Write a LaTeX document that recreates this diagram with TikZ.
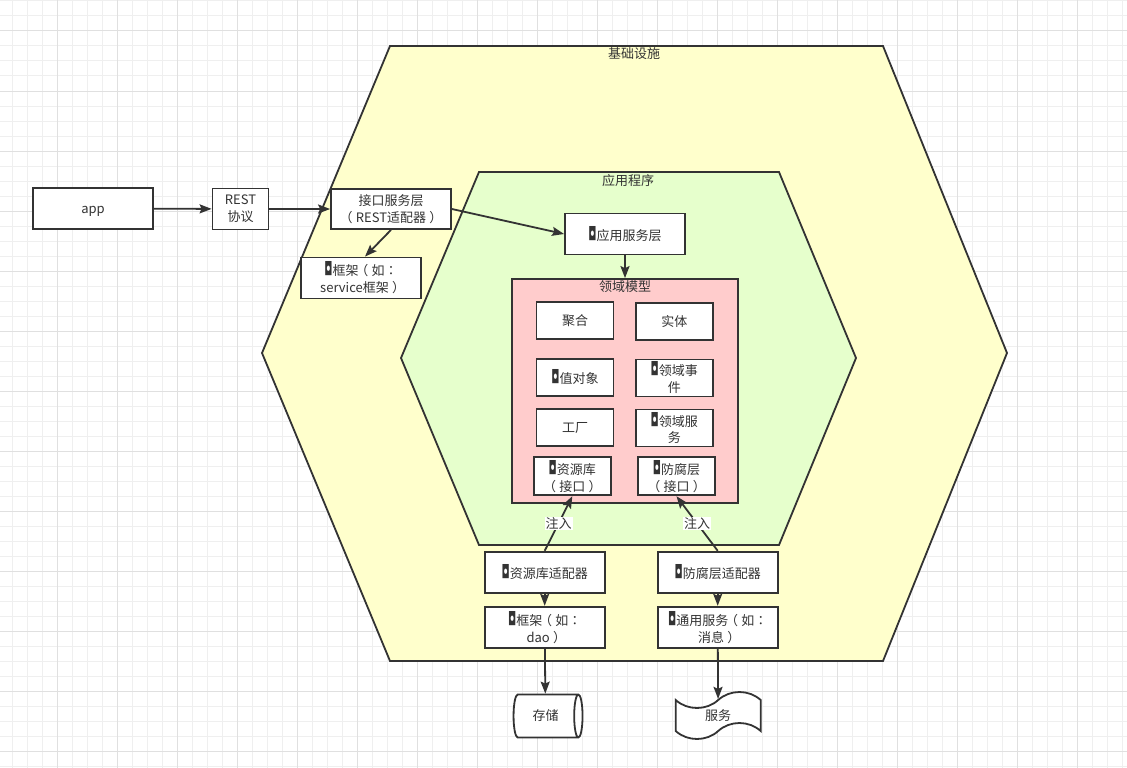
\documentclass[tikz,border=0pt]{standalone}
\usepackage{fontspec}
\setmainfont{Noto Sans CJK SC}
\newfontfamily\symfont{DejaVu Sans}
\newfontfamily\tcfont{Noto Sans CJK TC}
\usetikzlibrary{arrows.meta,shapes.geometric,shapes.symbols}
\definecolor{txt}{HTML}{333333}
\definecolor{infra}{HTML}{FFFFCC}
\definecolor{appl}{HTML}{E6FFCC}
\definecolor{domain}{HTML}{FFCCCC}
\definecolor{gridminor}{HTML}{EFEFEF}
\definecolor{gridmajor}{HTML}{E0E0E0}
\newcommand{\mk}{{\symfont\scalebox{0.8}[1.4]{◘}}}
\newcommand{\flp}{\makebox[1em][l]{\hspace{-0.25em}（}}
\newcommand{\frp}{\makebox[1em][l]{\hspace{0.25em}）}}
\newcommand{\fcol}{{\tcfont ：}}

\begin{document}
\begin{tikzpicture}
[x=1pt, y=-1pt, draw=txt, line width=1.8pt, >={Stealth[length=12pt,width=9pt,inset=2pt]},
every node/.style={font=\fontsize{13}{17}\selectfont, text=txt},
entry/.style={rectangle, draw, fill=white, align=center, inner sep=0pt, minimum width=120pt, minimum height=41pt},
cell/.style={entry, minimum width=77pt, minimum height=37pt},
title/.style={inner sep=0pt}]

\useasboundingbox (0,0) rectangle (1127,768);
\fill[white] (0,0) rectangle (1127,768);
\foreach \x in {12,27,...,1122} \draw[gridminor, line width=1pt] (\x,0) -- (\x,768);
\foreach \y in {1,16,...,766} \draw[gridminor, line width=1pt] (0,\y) -- (1127,\y);
\foreach \x in {57,117,...,1107} \draw[gridmajor, line width=1pt] (\x,0) -- (\x,768);
\foreach \y in {31,91,...,751} \draw[gridmajor, line width=1pt] (0,\y) -- (1127,\y);

% hexagons
\draw[fill=infra] (390,46) -- (883,46) -- (1007,353) -- (883,661) -- (390,661) -- (262,353) -- cycle;
\node[title] (infratitle) at (634,54) {基础设施};
\draw[fill=appl] (479,172) -- (779,172) -- (856,358) -- (779,545) -- (479,545) -- (401,358) -- cycle;
\node[title] (appltitle) at (628,181) {应用程序};

\node[entry, text height=11pt, text depth=1pt] (app) at (93,208.5) {app};
\node[entry, minimum width=56pt] (rest) at (240.5,209) {REST\\协议};
\node[entry, minimum height=40pt] (jiekou) at (391,209) {接口服务层\\\flp{}REST适配器\frp};
\node[entry] (kjservice) at (361,278) {\mk{}框架\flp{}如\fcol\\service框架\frp};
\node[entry] (yingyong) at (625,234) {\mk{}应用服务层};

% domain model
\node[rectangle, draw, fill=domain, minimum width=226pt, minimum height=224pt] (model) at (625,391) {};
\node[title] (modeltitle) at (625,287) {领域模型};
\node[cell] (juhe) at (575,320.5) {聚合};
\node[cell] (shiti) at (674.3,321.5) {实体};
\node[cell] (zhidui) at (575,377.5) {\mk{}值对象};
\node[cell] (shijian) at (674.3,378) {\mk{}领域事\\件};
\node[cell] (gongchang) at (575,427.5) {工厂};
\node[cell] (lyfuwu) at (674.3,428) {\mk{}领域服\\务};
\node[cell, minimum height=38pt] (ziyuanku) at (572.3,476.3) {\mk{}资源库\\\flp{}接口\frp};
\node[cell, minimum height=38pt] (fangfu) at (676.5,476.3) {\mk{}防腐层\\\flp{}接口\frp};

% adapters
\node[entry] (ziyuanpei) at (544.7,572.2) {\mk{}资源库适配器};
\node[entry] (fangfupei) at (717.7,572.2) {\mk{}防腐层适配器};
\node[entry] (kjdao) at (544.7,627.2) {\mk{}框架\flp{}如\fcol\\dao\frp};
\node[entry] (tongyong) at (717.7,627.2) {\mk{}通用服务\flp{}如\fcol\\消息\frp};

\node[cylinder, draw, fill=white, shape aspect=0.7, inner sep=0pt, minimum width=43pt, minimum height=69pt] (cunchu) at (545.5,716) {存储};
\node[tape, draw, fill=white, inner sep=0pt, minimum width=85pt, minimum height=47pt, tape bend height=16pt] (fuwu) at (718.2,715.5) {服务};

\draw[->] (app) -- (rest);
\draw[->] (rest) -- (jiekou);
\draw[->] (jiekou.east) -- (yingyong.west);
\draw[->] (jiekou.south) -- ([xshift=4pt]kjservice.north);
\draw[->] (yingyong) -- (model);
\draw[->] (ziyuanpei.north) -- node[fill=white, inner sep=1pt] {注入} (ziyuanku.south);
\draw[->] (fangfupei.north) -- node[fill=white, inner sep=1pt] {注入} (fangfu.south);
\draw[->] (ziyuanpei) -- (kjdao);
\draw[->] (fangfupei) -- (tongyong);
\draw[->] (kjdao) -- (cunchu);
\draw[->] (tongyong) -- (fuwu);

\end{tikzpicture}
\end{document}
